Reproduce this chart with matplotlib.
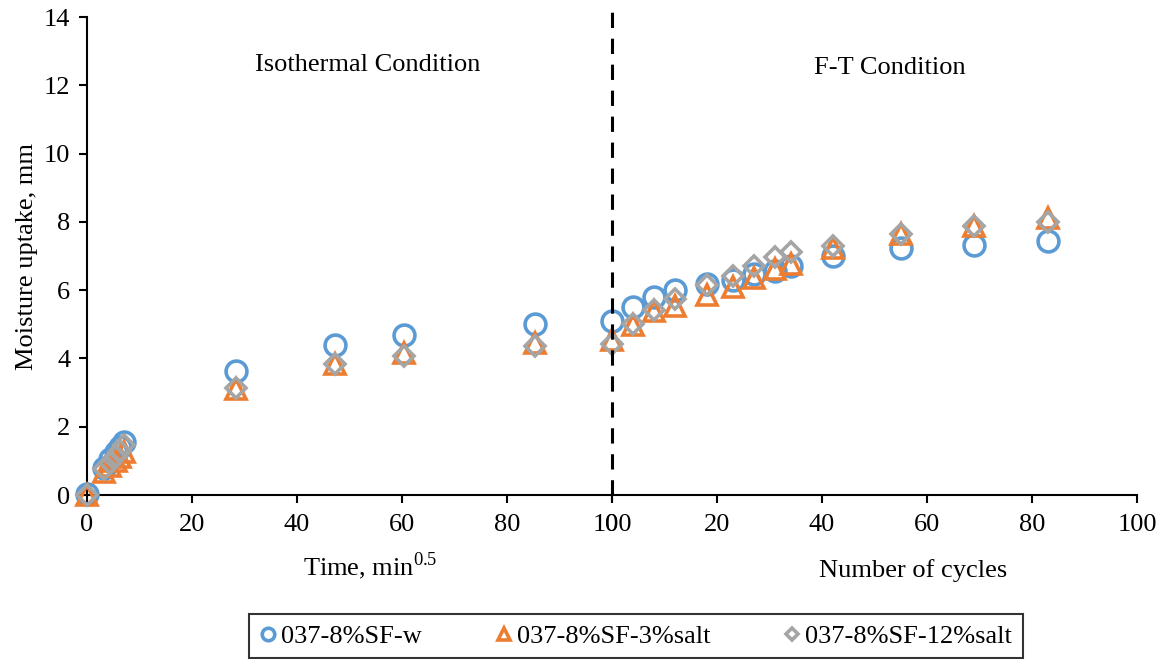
import matplotlib
matplotlib.use('Agg')
import matplotlib.pyplot as plt

plt.rcParams['font.family'] = ['Liberation Serif', 'DejaVu Serif']
plt.rcParams['mathtext.fontset'] = 'custom'
plt.rcParams['mathtext.rm'] = 'Liberation Serif'

# Isothermal condition: time in min^0.5
iso_time = [0, 3.16, 4.47, 5.48, 6.32, 7.07, 28.3, 47.3, 60.3, 85.3, 100]
iso_w = [0.02, 0.80, 1.05, 1.25, 1.42, 1.55, 3.62, 4.38, 4.69, 5.00, 5.09]
iso_3salt = [0.0, 0.68, 0.85, 1.00, 1.12, 1.25, 3.10, 3.85, 4.17, 4.45, 4.55]
iso_12salt = [0.0, 0.75, 0.95, 1.15, 1.30, 1.45, 3.14, 3.84, 4.06, 4.35, 4.43]

# F-T condition: number of cycles
ft_cycles = [4, 8, 12, 18, 23, 27, 31, 34, 42, 55, 69, 83]
ft_w = [5.52, 5.79, 6.00, 6.18, 6.29, 6.48, 6.57, 6.70, 7.00, 7.23, 7.33, 7.43]
ft_3salt = [4.98, 5.38, 5.54, 5.85, 6.08, 6.37, 6.63, 6.77, 7.22, 7.64, 7.87, 8.12]
ft_12salt = [5.01, 5.42, 5.75, 6.15, 6.40, 6.70, 6.98, 7.12, 7.30, 7.64, 7.87, 8.01]

labels = ['037-8%SF-w', '037-8%SF-3%salt', '037-8%SF-12%salt']
colors = ['#5B9BD5', '#ED7D31', '#A5A5A5']

fig = plt.figure(figsize=(11.71, 6.59), dpi=100)
ax1 = fig.add_axes([87 / 1171, 164 / 659, 525 / 1171, 478 / 659])
ax2 = fig.add_axes([612 / 1171, 164 / 659, 525 / 1171, 478 / 659], sharey=ax1)

styles = [dict(marker='o', ms=15), dict(marker='^', ms=15), dict(marker='D', ms=10.5)]

for ys, lab, c, st in zip([iso_w, iso_3salt, iso_12salt], labels, colors, styles):
    ax1.plot(iso_time, ys, ls='none', mfc='none', mec=c, mew=2.6, label=lab,
             clip_on=False, zorder=3, **st)
for ys, c, st in zip([ft_w, ft_3salt, ft_12salt], colors, styles):
    ax2.plot(ft_cycles, ys, ls='none', mfc='none', mec=c, mew=2.6,
             clip_on=False, zorder=3, **st)

ax1.set_xlim(0, 100)
ax2.set_xlim(0, 100)
ax1.set_ylim(0, 14)
ax1.set_xticks(range(0, 101, 20))
ax2.set_xticks(range(0, 101, 20))
ax1.set_yticks(range(0, 15, 2))

for ax in (ax1, ax2):
    ax.spines['top'].set_visible(False)
    ax.spines['right'].set_visible(False)
    ax.spines['bottom'].set_linewidth(1.5)
    ax.tick_params(axis='x', direction='out', length=6, width=1.5, labelsize=19, pad=8)
    ax.patch.set_alpha(0)
ax1.spines['left'].set_linewidth(1.5)
ax1.tick_params(axis='y', direction='out', length=6, width=1.5, labelsize=19, pad=6)
ax2.spines['left'].set_visible(False)
ax2.tick_params(axis='y', left=False, labelleft=False)

# dashed separator between the two conditions
ax1.axvline(100, ymin=0, ymax=1.02, color='black', ls=(0, (5, 3.5)), lw=2.2,
            clip_on=False, zorder=4)

ax1.set_ylabel('Moisture uptake, mm', fontsize=19, labelpad=4)
fig.text(370 / 1171, 1 - 566 / 659, r'Time, min$^{\mathrm{0.5}}$', fontsize=19,
         ha='center', va='center')
fig.text(913 / 1171, 1 - 571 / 659, 'Number of cycles', fontsize=19,
         ha='center', va='center')
fig.text(368 / 1171, 1 - 65 / 659, 'Isothermal Condition', fontsize=19,
         ha='center', va='center')
fig.text(890 / 1171, 1 - 68 / 659, 'F-T Condition', fontsize=19,
         ha='center', va='center')

leg = fig.legend(loc='center', bbox_to_anchor=(636 / 1171, 1 - 636 / 659), ncol=3,
                 fontsize=19, markerscale=0.6, handlelength=0.6, handletextpad=0.2,
                 columnspacing=2.8, fancybox=False, edgecolor='black',
                 borderpad=0.4, borderaxespad=0)
leg.get_frame().set_linewidth(1.5)

fig.savefig('out.png', dpi=100)
